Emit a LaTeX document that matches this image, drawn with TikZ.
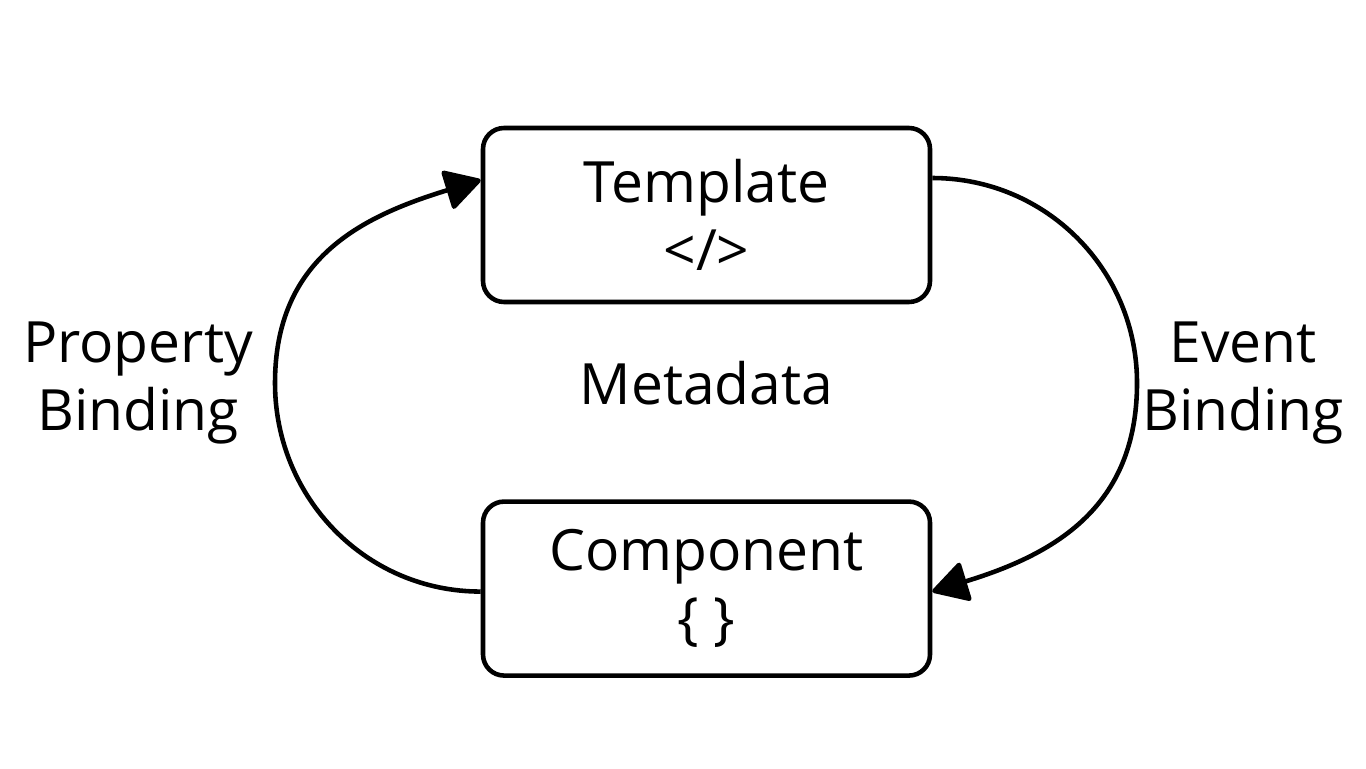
\documentclass[tikz,border=0pt]{standalone}
\usepackage{fontspec}
\setmainfont{Open Sans}
\usepackage{tikz}
\usetikzlibrary{positioning,arrows.meta}

\begin{document}
\begin{tikzpicture}[
  box/.style={draw, line width=1.3pt, rounded corners=6pt,
    minimum width=4.47cm, minimum height=1.74cm, align=center,
    font=\fontsize{16.2}{19.4}\selectfont, inner sep=0pt},
  lbl/.style={align=center, font=\fontsize{16.2}{19.4}\selectfont},
  flow/.style={line width=1.3pt,
    -{Triangle[length=0.38cm, width=0.42cm, round]}},
]
  \useasboundingbox (0,0) rectangle (13.66,-7.68);

  \node[box] (template) at (7.065,-2.15) {Template\\\textless/\textgreater};
  \node[box, below=1.95cm of template] (component) {Component\\\{ \}};
  \node[lbl] (metadata) at (7.065,-3.83) {Metadata};

  \node[lbl] (propbind) at (1.38,-3.83) {Property\\Binding};
  \node[lbl] (eventbind) at (12.43,-3.83) {Event\\Binding};

  \coordinate (pbleft) at (2.75,-3.83);
  \coordinate (ebright) at (11.37,-3.83);

  \draw[flow] ([yshift=-0.03cm]component.west) to[out=180, in=-90] (pbleft)
    to[out=90, in=197, looseness=1.1] ([yshift=0.35cm]template.west);
  \draw[flow] ([yshift=0.37cm]template.east) to[out=0, in=90] (ebright)
    to[out=-90, in=17, looseness=1.1] ([yshift=-0.03cm]component.east);
\end{tikzpicture}
\end{document}
